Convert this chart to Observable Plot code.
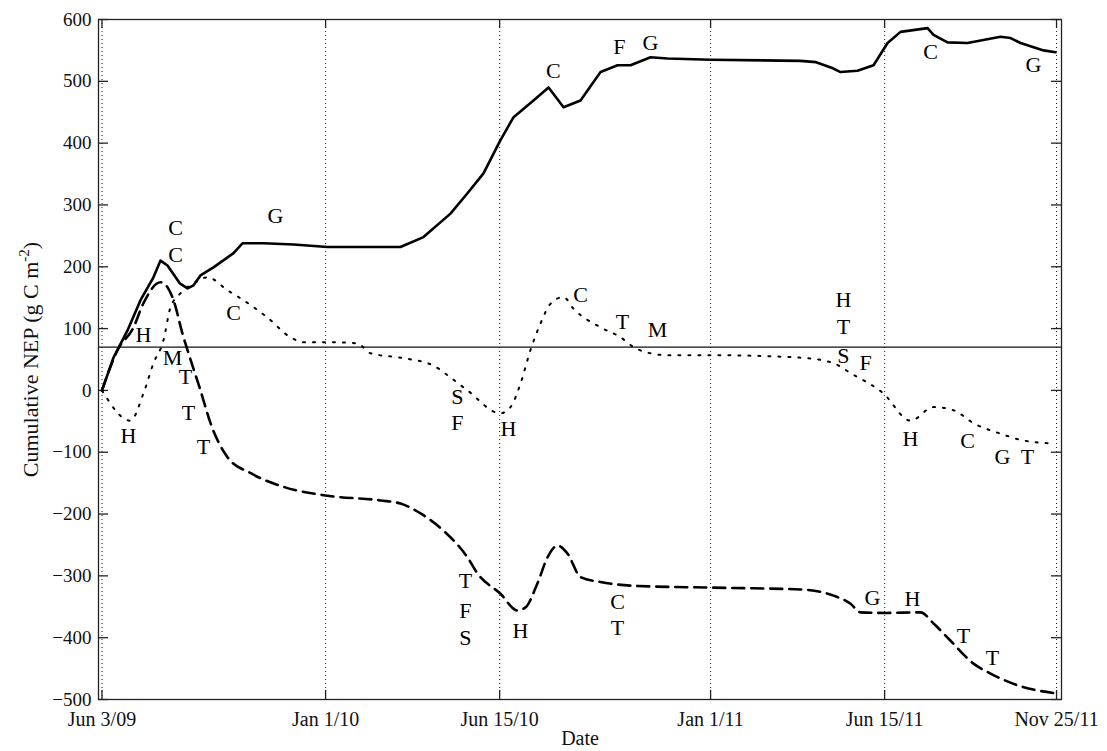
<!DOCTYPE html>
<html><head><meta charset="utf-8">
<script src="https://cdn.jsdelivr.net/npm/d3@7"></script>
<script src="https://cdn.jsdelivr.net/npm/@observablehq/plot@0.6"></script>
<style>body{margin:0;background:#fff} #chart svg{display:block}</style>
</head><body><div id="chart"></div>
<script>
// x values are days since Jun 3, 2009
const xTickDays = [0, 212, 377, 577, 742, 905];
const xTickLabels = ["Jun 3/09", "Jan 1/10", "Jun 15/10", "Jan 1/11", "Jun 15/11", "Nov 25/11"];
const yTicks = [-500, -400, -300, -200, -100, 0, 100, 200, 300, 400, 500, 600];
const refValue = 70;

const solidDays = [0, 10.9, 24.2, 36.5, 48.8, 55.5, 62.1, 73.9, 81.1, 86.8, 93.4, 105.7, 124.7, 133.2, 153.1, 181.6, 213.8, 235.6, 283, 304.8, 330.4, 346.5, 361.7, 377.8, 390.2, 409.1, 423.4, 437.6, 453.7, 472.7, 488.8, 501.1, 520.1, 536.2, 576.9, 662.3, 677, 693, 700.2, 716.3, 731.5, 744.8, 757.1, 782.7, 788.4, 801.6, 820.6, 851.9, 861.4, 870.9, 892.7, 904];
const solidValues = [0, 53, 97, 146, 183, 210, 202, 173, 165, 170, 186, 199, 222, 238, 238, 236, 232, 232, 232, 248, 286, 319, 351, 405, 442, 469, 490, 458, 469, 515, 526, 526, 539, 537, 535, 533, 531, 521, 515, 517, 526, 562, 580, 586, 575, 563, 562, 572, 570, 562, 550, 547];

const dashedDays = [0, 14.7, 29.9, 39.3, 55.5, 62.1, 67.8, 76.3, 81.1, 93.4, 102.9, 119, 141.1, 172.1, 211.9, 264.1, 283, 302, 323.8, 346.5, 356, 377.8, 393.9, 401.5, 412.9, 422.4, 431.9, 441.4, 453.7, 472.7, 504, 576.9, 662.3, 693.6, 709.7, 719.2, 742.9, 776, 788.4, 804.5, 826.3, 842.4, 868, 904];
const dashedValues = [0, 65, 102, 141, 175, 167, 146, 92, 65, 0, -53, -108, -134, -156, -170, -178, -183, -199, -227, -270, -296, -329, -356, -351, -312, -270, -251, -264, -302, -310, -316, -319, -322, -332, -345, -359, -360, -359, -377, -405, -442, -458, -477, -490];

const dottedDays = [0, 26.9, 39.3, 48.8, 58.3, 64.9, 74.4, 86.8, 100, 119, 131.3, 156.9, 178.7, 191, 219.5, 242.3, 254.6, 283, 314.3, 330.4, 346.5, 377.8, 387.3, 396.8, 406.2, 415.7, 425.2, 437.6, 447.1, 472.7, 491.6, 504, 520.1, 536.2, 576.9, 662.3, 693.6, 709.7, 740.9, 766.5, 788.4, 807.3, 826.3, 851.9, 873.7, 904];
const dottedValues = [0, -49, -5, 44, 81, 134, 157, 173, 183, 162, 149, 118, 86, 78, 78, 76, 60, 53, 40, 21, 0, -37, -27, 11, 65, 108, 140, 151, 132, 102, 86, 70, 60, 57, 57, 53, 44, 28, -5, -49, -27, -32, -53, -70, -81, -86];

const labelText   = ["C", "C", "G", "C", "F", "G", "C", "G", "H", "H", "M", "T", "T", "T", "C", "T", "F", "S", "H", "C", "T", "G", "H", "T", "T", "S", "F", "H", "C", "T", "M", "H", "T", "S", "F", "H", "C", "G", "T"];
const labelDays   = [69.7, 69.7, 164.5, 428, 490.6, 520, 785.5, 883.2, 39.3, 25.1, 66.8, 79.2, 82, 96.2, 124.7, 344.6, 344.6, 344.6, 396.8, 488.8, 488.8, 730.5, 768.4, 816.8, 844.3, 337, 337, 385.4, 453.7, 493.5, 526.7, 703, 703, 703, 723.9, 766.5, 820.6, 853.8, 877.5];
const labelValues = [262, 219, 283, 516, 555, 562, 547, 526, 89, -73, 52, 21, -36, -92, 126, -308, -356, -400, -389, -343, -385, -335, -337, -398, -432, -11, -53, -62, 154, 110, 97, 147, 102, 55, 44, -78, -81, -108, -108];

const solid = solidDays.map((d, i) => ({day: d, value: solidValues[i]}));
const dashed = dashedDays.map((d, i) => ({day: d, value: dashedValues[i]}));
const dotted = dottedDays.map((d, i) => ({day: d, value: dottedValues[i]}));
const labels = labelText.map((t, i) => ({text: t, day: labelDays[i], value: labelValues[i]}));

const W = 1107, H = 751, mL = 98, mR = 46, mT = 19, mB = 52;
const iw = W - mL - mR, ih = H - mT - mB;
const font = "'Liberation Serif', 'Times New Roman', serif";

const chart = Plot.plot({
  width: W, height: H,
  marginLeft: mL, marginRight: mR, marginTop: mT, marginBottom: mB,
  style: {fontFamily: font, fontSize: "20px", color: "#111", background: "#fff"},
  x: {type: "linear", domain: [-3.3, 909.7]},
  y: {domain: [-500, 600]},
  marks: [
    Plot.ruleX(xTickDays, {x: d => d, stroke: "#222", strokeWidth: 1, strokeDasharray: "1,3"}),
    Plot.ruleX(xTickDays, {x: d => d, stroke: "#222", strokeWidth: 1.3, insetTop: ih - 9}),
    Plot.ruleX(xTickDays, {x: d => d, stroke: "#222", strokeWidth: 1.3, insetBottom: ih - 9}),
    Plot.ruleY(yTicks, {y: d => d, stroke: "#222", strokeWidth: 1.3, insetRight: iw - 10}),
    Plot.ruleY(yTicks, {y: d => d, stroke: "#222", strokeWidth: 1.3, insetLeft: iw - 10}),
    Plot.ruleY([refValue], {stroke: "#111", strokeWidth: 1.3}),
    Plot.line(dotted, {x: "day", y: "value", stroke: "#000", strokeWidth: 2, strokeDasharray: "2,8", curve: "monotone-x"}),
    Plot.line(dashed, {x: "day", y: "value", stroke: "#000", strokeWidth: 2.6, strokeDasharray: "12,7", curve: "monotone-x"}),
    Plot.line(solid, {x: "day", y: "value", stroke: "#000", strokeWidth: 2.6}),
    Plot.text(labels, {x: "day", y: "value", text: "text", fontSize: 22, fill: "#000"}),
    Plot.frame({stroke: "#222", strokeWidth: 1.3}),
    Plot.axisX({ticks: xTickDays, tickFormat: d => xTickLabels[xTickDays.indexOf(d)], tickSize: 0, tickPadding: 12, fontSize: 20, label: null}),
    Plot.axisY({ticks: yTicks, tickSize: 0, tickPadding: 7, fontSize: 19, label: null}),
    Plot.text(["Date"], {frameAnchor: "bottom", dy: 39, text: d => d, fontSize: 20, lineAnchor: "middle"}),
    Plot.text(["Cumulative NEP (g C m"], {frameAnchor: "left", dx: -68, rotate: -90, text: d => d, fontSize: 22, lineAnchor: "middle", textAnchor: "middle", className: "ylab"})
  ]
});
document.getElementById("chart").appendChild(chart);

// add superscript to y-axis title
const yl = chart.querySelector(".ylab text");
if (yl) {
  const sup = document.createElementNS("http://www.w3.org/2000/svg", "tspan");
  sup.setAttribute("dy", "-9");
  sup.setAttribute("font-size", "15");
  sup.textContent = "-2";
  const close = document.createElementNS("http://www.w3.org/2000/svg", "tspan");
  close.setAttribute("dy", "9");
  close.textContent = ")";
  yl.appendChild(sup);
  yl.appendChild(close);
}
</script>
</body></html>
